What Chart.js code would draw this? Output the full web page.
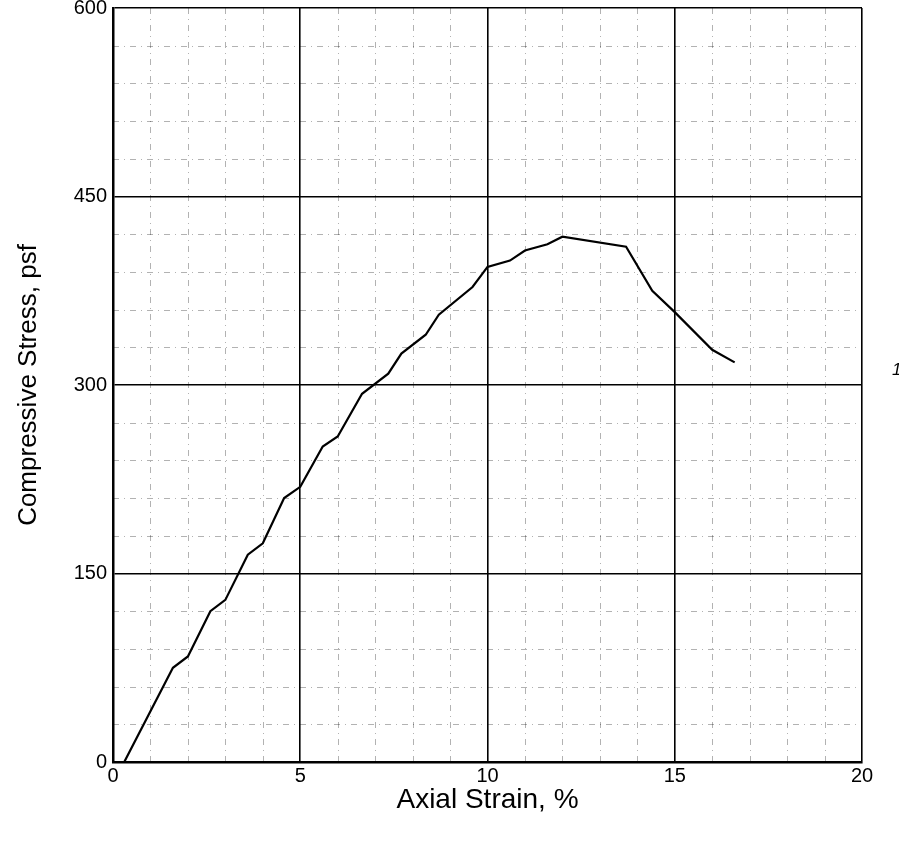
<!DOCTYPE html>
<html>
<head>
<meta charset="utf-8">
<title>Compressive Stress vs Axial Strain</title>
<script src="https://cdn.jsdelivr.net/npm/chart.js@4.4.0/dist/chart.umd.min.js"></script>
<style>
  html, body { margin: 0; padding: 0; background: #fff; }
  #wrap { width: 899px; height: 842px; }
</style>
</head>
<body>
<div id="wrap"><canvas id="stressChart" width="899" height="842"></canvas></div>
<script>
// Readings taken off the test sheet
var strain = [0.3, 1.6, 2.0, 2.6, 3.0, 3.6, 4.0, 4.57, 5.0, 5.6, 6.0, 6.65, 7.35, 7.7, 8.35, 8.7, 9.6, 10.0, 10.6, 11.0, 11.6, 12.0, 13.7, 14.4, 15.0, 16.0, 16.6];
var stress = [0, 75, 84, 120, 129, 165, 174, 210, 219, 251, 259, 293, 309, 325, 340, 356, 378, 394, 399, 407, 412, 418, 410, 375, 358, 328, 318];
var strainTicks = [0, 5, 10, 15, 20];
var stressTicks = [0, 150, 300, 450, 600];
var strainMinor = [1, 2, 3, 4, 6, 7, 8, 9, 11, 12, 13, 14, 16, 17, 18, 19];
var stressMinor = [30, 60, 90, 120, 180, 210, 240, 270, 330, 360, 390, 420, 480, 510, 540, 570];
var curveName = "1";

var fontFamily = "'Liberation Sans', Arial, sans-serif";

// light dotted grid between the heavy lines + the curve number on the right
var paperGrid = {
  id: "paperGrid",
  beforeDatasetsDraw: function (chart) {
    var ctx = chart.ctx;
    var area = chart.chartArea;
    var xs = chart.scales.x;
    var ys = chart.scales.y;
    ctx.save();
    ctx.strokeStyle = "rgba(0,0,0,0.3)";
    ctx.lineWidth = 1;
    ctx.setLineDash([6, 5, 1, 5]);
    strainMinor.forEach(function (v) {
      var px = Math.round(xs.getPixelForValue(v)) + 0.5;
      ctx.beginPath();
      ctx.moveTo(px, area.top);
      ctx.lineTo(px, area.bottom);
      ctx.stroke();
    });
    stressMinor.forEach(function (v) {
      var py = Math.round(ys.getPixelForValue(v)) + 0.5;
      ctx.beginPath();
      ctx.moveTo(area.left, py);
      ctx.lineTo(area.right, py);
      ctx.stroke();
    });
    ctx.restore();
  },
  afterDraw: function (chart) {
    var ctx = chart.ctx;
    var ys = chart.scales.y;
    ctx.save();
    ctx.fillStyle = "#000";
    ctx.font = "italic 17px " + fontFamily;
    ctx.textAlign = "left";
    ctx.textBaseline = "middle";
    ctx.fillText(curveName, chart.chartArea.right + 30, ys.getPixelForValue(312));
    ctx.restore();
  },
};

var ctx = document.getElementById("stressChart").getContext("2d");
window.stressChart = new Chart(ctx, {
  type: "line",
  data: {
    datasets: [
      {
        label: "Specimen 1",
        data: strain.map(function (s, i) {
          return { x: s, y: stress[i] };
        }),
        borderColor: "#000",
        borderWidth: 2.2,
        pointRadius: 0,
        tension: 0,
        fill: false,
      },
    ],
  },
  options: {
    responsive: false,
    animation: false,
    devicePixelRatio: 1,
    layout: { padding: { top: 8, right: 37, left: 0, bottom: 0 } },
    plugins: {
      legend: { display: false },
      tooltip: { enabled: false },
    },
    scales: {
      x: {
        type: "linear",
        min: 0,
        max: 20,
        afterBuildTicks: function (axis) {
          axis.ticks = strainTicks.map(function (v) { return { value: v }; });
        },
        afterFit: function (axis) {
          axis.height = 80;
          axis.paddingLeft = 0;
          axis.paddingRight = 0;
        },
        ticks: {
          color: "#000",
          padding: 2,
          maxRotation: 0,
          font: { family: fontFamily, size: 20 },
        },
        grid: { color: "#000", lineWidth: 1.6, drawTicks: false },
        border: { color: "#000", width: 2.5 },
        title: {
          display: true,
          text: "Axial Strain, %",
          color: "#000",
          font: { family: fontFamily, size: 28 },
          padding: { top: 0, bottom: 25 },
        },
      },
      y: {
        type: "linear",
        min: 0,
        max: 600,
        afterBuildTicks: function (axis) {
          axis.ticks = stressTicks.map(function (v) { return { value: v }; });
        },
        afterFit: function (axis) {
          axis.width = 113;
          axis.paddingTop = 0;
          axis.paddingBottom = 0;
        },
        ticks: {
          color: "#000",
          padding: 6,
          font: { family: fontFamily, size: 20 },
        },
        grid: { color: "#000", lineWidth: 1.6, drawTicks: false },
        border: { color: "#000", width: 2.5 },
        title: {
          display: true,
          text: "Compressive Stress, psf",
          color: "#000",
          font: { family: fontFamily, size: 26 },
          padding: { top: 13, bottom: 0 },
        },
      },
    },
  },
  plugins: [paperGrid],
});
</script>
</body>
</html>
